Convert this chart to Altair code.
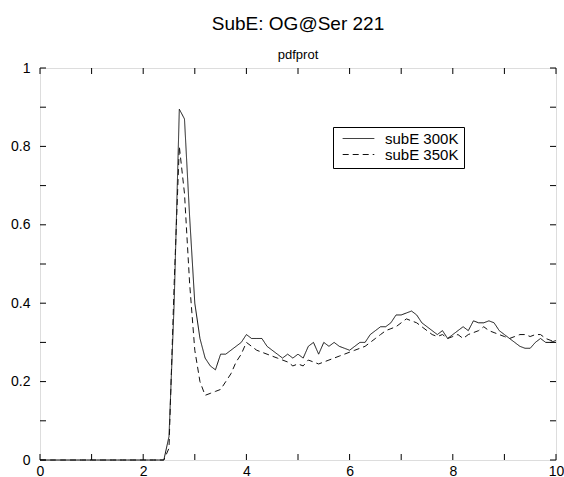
import altair as alt
import pandas as pd

x_vals = [round(i * 0.1, 1) for i in range(101)]

sub300 = [0]*24 + [
    0.0, 0.06, 0.40, 0.895, 0.87, 0.62, 0.40, 0.31, 0.26, 0.24,   # 2.4-3.3
    0.23, 0.27, 0.27, 0.28, 0.29, 0.30, 0.32, 0.31, 0.31, 0.31,   # 3.4-4.3
    0.29, 0.28, 0.27, 0.26, 0.27, 0.26, 0.27, 0.26, 0.29, 0.30,   # 4.4-5.3
    0.27, 0.30, 0.29, 0.30, 0.29, 0.285, 0.28, 0.29, 0.30, 0.30,  # 5.4-6.3
    0.32, 0.33, 0.34, 0.34, 0.35, 0.37, 0.37, 0.375, 0.38, 0.37,  # 6.4-7.3
    0.35, 0.34, 0.33, 0.32, 0.33, 0.31, 0.32, 0.33, 0.34, 0.33,   # 7.4-8.3
    0.355, 0.35, 0.35, 0.355, 0.35, 0.33, 0.32, 0.31, 0.30, 0.29, # 8.4-9.3
    0.285, 0.285, 0.30, 0.31, 0.30, 0.30, 0.305                   # 9.4-10.0
]

sub350 = [0]*24 + [
    0.0, 0.03, 0.45, 0.80, 0.68, 0.45, 0.28, 0.20, 0.165, 0.17,    # 2.4-3.3
    0.175, 0.18, 0.20, 0.22, 0.25, 0.27, 0.30, 0.29, 0.28, 0.275,  # 3.4-4.3
    0.27, 0.265, 0.26, 0.255, 0.25, 0.24, 0.245, 0.24, 0.255, 0.25,# 4.4-5.3
    0.245, 0.25, 0.255, 0.26, 0.265, 0.27, 0.275, 0.28, 0.285, 0.29,# 5.4-6.3
    0.30, 0.31, 0.32, 0.33, 0.335, 0.34, 0.35, 0.36, 0.355, 0.35,  # 6.4-7.3
    0.34, 0.33, 0.32, 0.315, 0.32, 0.31, 0.315, 0.32, 0.31, 0.32,  # 7.4-8.3
    0.325, 0.33, 0.34, 0.33, 0.325, 0.32, 0.315, 0.31, 0.315, 0.32,# 8.4-9.3
    0.32, 0.315, 0.32, 0.32, 0.31, 0.305, 0.30                     # 9.4-10.0
]

series_names = ["subE 300K", "subE 350K"]
x_ticks = list(range(11))
y_ticks = [round(i * 0.1, 1) for i in range(11)]

W, H = 516, 392
FONT = "Liberation Sans"

df = pd.DataFrame({
    "r": x_vals * 2,
    "g": sub300 + sub350,
    "series": [series_names[0]] * len(x_vals) + [series_names[1]] * len(x_vals),
})

xscale = alt.Scale(domain=[0, 10], nice=False)
yscale = alt.Scale(domain=[0, 1], nice=False)

lines = alt.Chart(df).mark_line(strokeWidth=1, color="#111").encode(
    x=alt.X("r:Q", scale=xscale, title=None,
            axis=alt.Axis(values=x_ticks, ticks=False, domain=False, grid=False,
                          labelExpr="datum.value % 2 == 0 ? datum.label : ''",
                          labelFontSize=14, labelColor="black", labelFont=FONT,
                          labelPadding=4, labelFlush=False)),
    y=alt.Y("g:Q", scale=yscale, title=None,
            axis=alt.Axis(values=y_ticks, ticks=False, domain=False, grid=False,
                          labelExpr="round(datum.value*10) % 2 == 0 ? format(datum.value, '~g') : ''",
                          labelFontSize=14, labelColor="black", labelFont=FONT,
                          labelPadding=10)),
    strokeDash=alt.StrokeDash(
        "series:N",
        scale=alt.Scale(domain=series_names, range=[[1, 0], [6, 4]]),
        legend=alt.Legend(
            title=None, orient="none", legendX=293, legendY=59,
            strokeColor="black", fillColor="white", padding=5,
            symbolType="stroke", symbolStrokeColor="#111", symbolStrokeWidth=1,
            symbolSize=1000, symbolOffset=4, clipHeight=13, rowPadding=0,
            labelFontSize=15, labelFont=FONT, labelColor="black",
            labelOffset=10,
        ),
    ),
)

xt = pd.DataFrame({"t": x_ticks})
yt = pd.DataFrame({"t": y_ticks})

xb = alt.Chart(xt).mark_rule(color="black", strokeWidth=1).encode(
    x=alt.X("t:Q", scale=xscale), y=alt.value(H), y2=alt.value(H - 6))
xtop = alt.Chart(xt).mark_rule(color="black", strokeWidth=1).encode(
    x=alt.X("t:Q", scale=xscale), y=alt.value(0), y2=alt.value(6))
yl = alt.Chart(yt).mark_rule(color="black", strokeWidth=1).encode(
    y=alt.Y("t:Q", scale=yscale), x=alt.value(0), x2=alt.value(6))
yr = alt.Chart(yt).mark_rule(color="black", strokeWidth=1).encode(
    y=alt.Y("t:Q", scale=yscale), x=alt.value(W), x2=alt.value(W - 6))

chart = alt.layer(lines, xb, xtop, yl, yr).properties(
    width=W, height=H,
    title=alt.TitleParams(
        text="SubE: OG@Ser 221", subtitle="pdfprot",
        fontSize=19, font=FONT, fontWeight="normal", color="black",
        subtitleFontSize=13, subtitleFont=FONT, subtitleColor="black",
        subtitlePadding=15, offset=-1, anchor="middle",
    ),
    padding={"left": 40, "top": 68, "right": 8, "bottom": 17},
    autosize=alt.AutoSizeParams(type="none"),
).configure_view(stroke="black", strokeWidth=1).configure(background="white")

chart.save("out.html", embed_options={"renderer": "svg", "actions": False})
